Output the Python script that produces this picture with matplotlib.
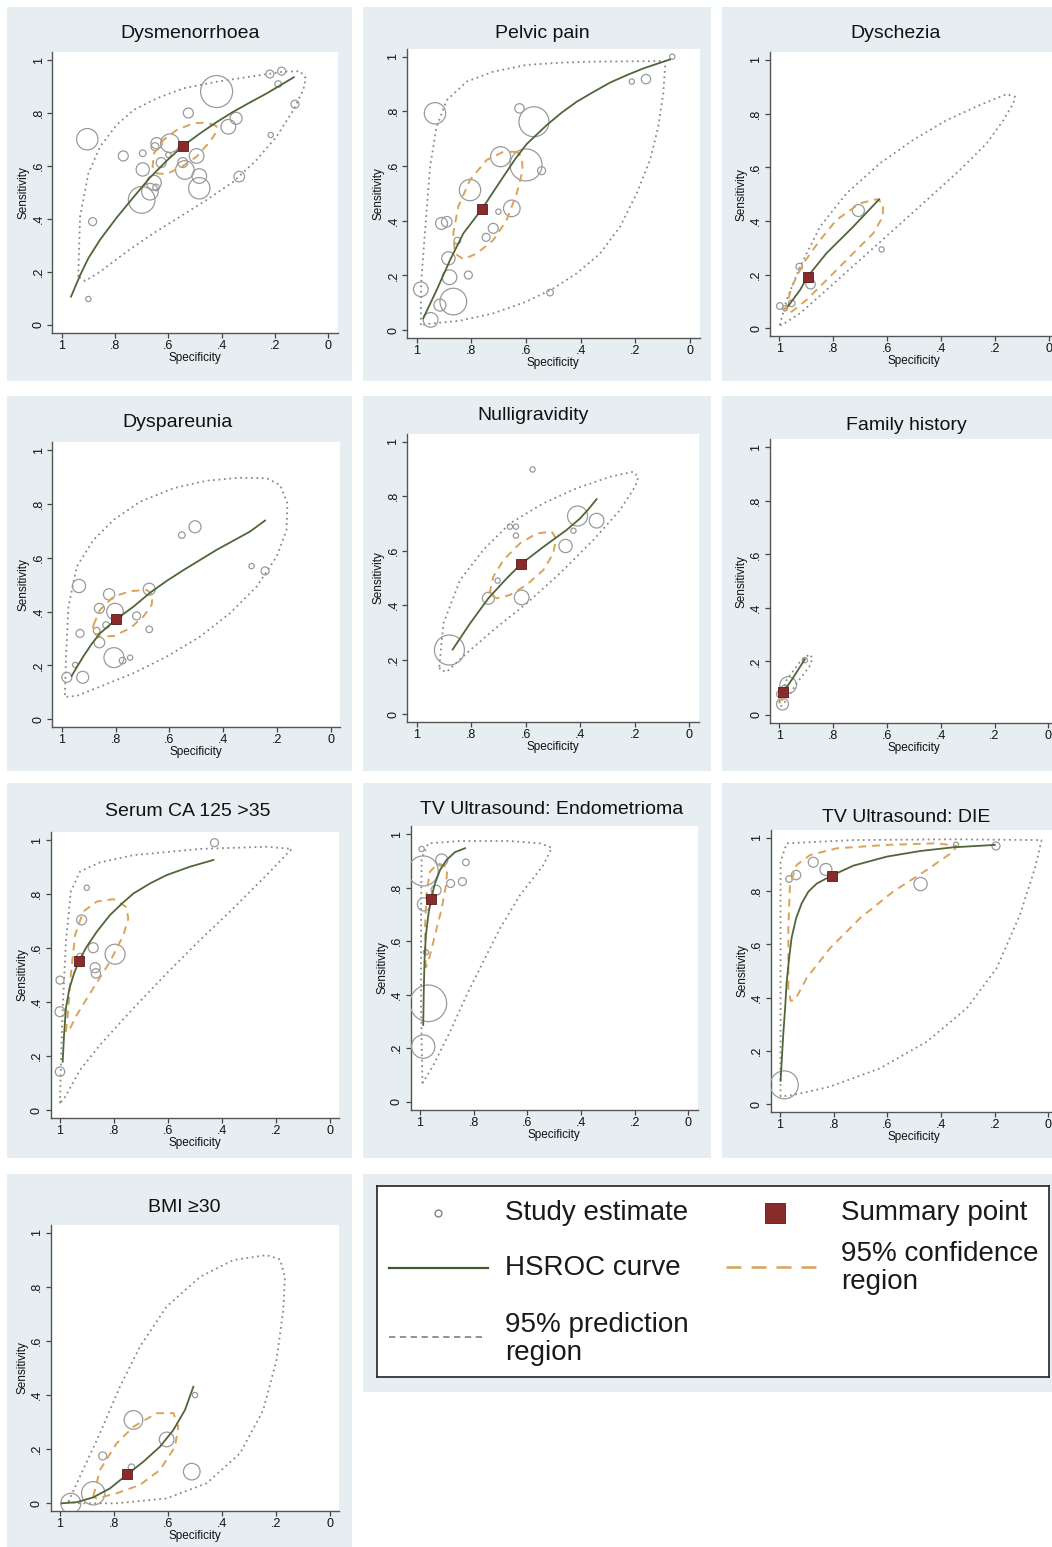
import numpy as np
import matplotlib
matplotlib.use("Agg")
import matplotlib.pyplot as plt
from matplotlib.patches import Rectangle

plt.rcParams['font.family'] = ['Liberation Sans', 'DejaVu Sans']

W, H = 1052, 1547

titles = ["Dysmenorrhoea", "Pelvic pain", "Dyschezia", "Dyspareunia", "Nulligravidity",
          "Family history", "Serum CA 125 >35", "TV Ultrasound: Endometrioma",
          "TV Ultrasound: DIE", "BMI \u226530"]

# ---- data: (specificity, sensitivity, weight) per study, summary point,
# ---- HSROC curve, 95% confidence region, 95% prediction region
dysm_studies = [(0.904, 0.701, 114), (0.884, 0.390, 16), (0.900, 0.098, 7), (0.769, 0.638, 25),
                (0.696, 0.648, 11), (0.696, 0.587, 44), (0.700, 0.472, 178), (0.669, 0.503, 69),
                (0.654, 0.537, 54), (0.646, 0.519, 11), (0.644, 0.686, 32), (0.650, 0.673, 16),
                (0.627, 0.613, 25), (0.600, 0.642, 7), (0.594, 0.686, 87), (0.546, 0.613, 25),
                (0.538, 0.585, 87), (0.525, 0.800, 25), (0.494, 0.638, 54), (0.484, 0.562, 54),
                (0.484, 0.516, 114), (0.419, 0.881, 256), (0.375, 0.748, 54), (0.346, 0.780, 36),
                (0.334, 0.560, 28), (0.216, 0.717, 7), (0.219, 0.947, 16), (0.175, 0.958, 16),
                (0.188, 0.909, 11), (0.125, 0.833, 16)]
dysm_summary = (0.546, 0.675)
dysm_curve = [(0.965, 0.107), (0.930, 0.190), (0.900, 0.252), (0.856, 0.322), (0.794, 0.405),
              (0.731, 0.482), (0.669, 0.556), (0.606, 0.620), (0.546, 0.675), (0.481, 0.723),
              (0.420, 0.765), (0.356, 0.805), (0.290, 0.842), (0.231, 0.874), (0.129, 0.935)]
dysm_conf = [(0.419, 0.751), (0.456, 0.764), (0.506, 0.761), (0.569, 0.736), (0.619, 0.698),
             (0.654, 0.648), (0.659, 0.597), (0.644, 0.572), (0.606, 0.570), (0.550, 0.597),
             (0.494, 0.635), (0.444, 0.692), (0.419, 0.730)]
dysm_pred = [(0.938, 0.182), (0.931, 0.409), (0.900, 0.572), (0.856, 0.673), (0.794, 0.755),
             (0.731, 0.811), (0.644, 0.855), (0.544, 0.893), (0.419, 0.918), (0.294, 0.937),
             (0.169, 0.956), (0.106, 0.958), (0.084, 0.931), (0.094, 0.887), (0.131, 0.811),
             (0.194, 0.711), (0.269, 0.623), (0.356, 0.541), (0.456, 0.472), (0.556, 0.409),
             (0.656, 0.346), (0.756, 0.277), (0.856, 0.201), (0.912, 0.166)]

pelv_studies = [(0.933, 0.793, 114), (0.624, 0.811, 22), (0.571, 0.762, 225), (0.693, 0.634, 100),
                (0.600, 0.604, 256), (0.543, 0.583, 16), (0.805, 0.512, 114), (0.652, 0.445, 69),
                (0.701, 0.433, 7), (0.909, 0.390, 36), (0.890, 0.396, 28), (0.720, 0.372, 25),
                (0.746, 0.339, 16), (0.851, 0.327, 11), (0.884, 0.262, 44), (0.880, 0.193, 54),
                (0.811, 0.201, 16), (0.866, 0.104, 178), (0.915, 0.091, 36), (0.985, 0.149, 54),
                (0.949, 0.037, 54), (0.512, 0.137, 11), (0.213, 0.909, 7), (0.161, 0.918, 22),
                (0.065, 1.000, 7)]
pelv_summary = (0.761, 0.443)
pelv_curve = [(0.976, 0.043), (0.927, 0.146), (0.878, 0.256), (0.829, 0.354), (0.761, 0.443),
              (0.695, 0.543), (0.640, 0.625), (0.598, 0.680), (0.524, 0.750), (0.470, 0.795),
              (0.415, 0.835), (0.350, 0.873), (0.293, 0.905), (0.230, 0.933), (0.171, 0.957),
              (0.073, 0.990)]
pelv_conf = [(0.634, 0.652), (0.683, 0.652), (0.744, 0.622), (0.805, 0.549), (0.848, 0.451),
             (0.866, 0.354), (0.860, 0.280), (0.829, 0.259), (0.780, 0.280), (0.720, 0.329),
             (0.671, 0.402), (0.634, 0.500), (0.612, 0.585), (0.616, 0.634)]
pelv_pred = [(0.985, 0.018), (0.984, 0.171), (0.970, 0.354), (0.951, 0.598), (0.927, 0.744),
             (0.890, 0.841), (0.817, 0.909), (0.720, 0.945), (0.598, 0.970), (0.476, 0.978),
             (0.354, 0.982), (0.232, 0.983), (0.091, 0.984), (0.091, 0.963), (0.098, 0.866),
             (0.116, 0.744), (0.146, 0.622), (0.195, 0.500), (0.256, 0.378), (0.329, 0.280),
             (0.415, 0.207), (0.500, 0.152), (0.598, 0.104), (0.720, 0.061), (0.841, 0.034),
             (0.963, 0.022)]

dysc_studies = [(0.707, 0.439, 36), (0.621, 0.294, 7), (0.926, 0.230, 11), (0.884, 0.164, 22),
                (0.998, 0.083, 11), (0.979, 0.075, 7), (0.954, 0.093, 11)]
dysc_summary = (0.895, 0.193)
dysc_curve = [(0.967, 0.083), (0.923, 0.143), (0.895, 0.193), (0.825, 0.280), (0.726, 0.379),
              (0.630, 0.481)]
dysc_conf = [(0.979, 0.062), (0.954, 0.155), (0.911, 0.242), (0.849, 0.329), (0.788, 0.404),
             (0.701, 0.466), (0.640, 0.481), (0.615, 0.466), (0.617, 0.416), (0.652, 0.354),
             (0.726, 0.280), (0.812, 0.193), (0.899, 0.106), (0.954, 0.062)]
dysc_pred = [(0.998, 0.012), (0.973, 0.106), (0.923, 0.230), (0.849, 0.379), (0.751, 0.503),
             (0.627, 0.615), (0.504, 0.702), (0.380, 0.776), (0.257, 0.832), (0.158, 0.873),
             (0.127, 0.863), (0.133, 0.839), (0.170, 0.776), (0.232, 0.689), (0.331, 0.590),
             (0.454, 0.478), (0.578, 0.366), (0.701, 0.255), (0.825, 0.143), (0.923, 0.056),
             (0.991, 0.012)]

dysp_studies = [(0.936, 0.495, 44), (0.932, 0.319, 16), (0.950, 0.202, 7), (0.981, 0.156, 25),
                (0.922, 0.156, 36), (0.860, 0.412, 25), (0.870, 0.329, 11), (0.860, 0.285, 28),
                (0.824, 0.464, 32), (0.835, 0.350, 11), (0.802, 0.400, 69), (0.806, 0.229, 100),
                (0.774, 0.218, 11), (0.746, 0.229, 7), (0.722, 0.384, 16), (0.675, 0.483, 36),
                (0.675, 0.334, 11), (0.554, 0.684, 11), (0.505, 0.715, 36), (0.295, 0.569, 7),
                (0.245, 0.551, 16)]
dysp_summary = (0.798, 0.371)
dysp_curve = [(0.963, 0.161), (0.940, 0.200), (0.920, 0.233), (0.890, 0.278), (0.858, 0.319),
              (0.798, 0.371), (0.734, 0.418), (0.672, 0.470), (0.610, 0.514), (0.548, 0.554),
              (0.425, 0.629), (0.301, 0.697), (0.245, 0.738)]
dysp_conf = [(0.882, 0.350), (0.858, 0.406), (0.808, 0.455), (0.746, 0.476), (0.684, 0.480),
             (0.662, 0.462), (0.666, 0.425), (0.697, 0.381), (0.746, 0.338), (0.808, 0.309),
             (0.864, 0.307), (0.885, 0.325)]
dysp_pred = [(0.988, 0.090), (0.984, 0.233), (0.975, 0.418), (0.944, 0.567), (0.882, 0.666),
             (0.808, 0.740), (0.709, 0.808), (0.585, 0.858), (0.462, 0.886), (0.338, 0.897),
             (0.239, 0.895), (0.189, 0.870), (0.162, 0.802), (0.165, 0.703), (0.202, 0.604),
             (0.276, 0.493), (0.375, 0.394), (0.486, 0.307), (0.610, 0.233), (0.734, 0.171),
             (0.858, 0.121), (0.944, 0.087), (0.981, 0.084)]

null_studies = [(0.880, 0.235, 225), (0.737, 0.425, 36), (0.703, 0.490, 7), (0.615, 0.428, 54),
                (0.658, 0.688, 7), (0.636, 0.688, 7), (0.636, 0.655, 7), (0.575, 0.898, 7),
                (0.454, 0.617, 44), (0.425, 0.673, 7), (0.410, 0.727, 100), (0.340, 0.710, 54)]
null_summary = (0.617, 0.551)
null_curve = [(0.868, 0.237), (0.804, 0.333), (0.737, 0.425), (0.670, 0.498), (0.617, 0.551),
              (0.535, 0.614), (0.450, 0.676), (0.401, 0.718), (0.370, 0.752), (0.340, 0.789)]
null_conf = [(0.733, 0.441), (0.719, 0.504), (0.682, 0.565), (0.621, 0.627), (0.560, 0.663),
             (0.505, 0.670), (0.489, 0.645), (0.499, 0.590), (0.535, 0.529), (0.597, 0.474),
             (0.658, 0.437), (0.707, 0.425)]
null_pred = [(0.917, 0.174), (0.902, 0.333), (0.841, 0.492), (0.756, 0.602), (0.658, 0.700),
             (0.535, 0.774), (0.413, 0.829), (0.291, 0.871), (0.205, 0.890), (0.187, 0.869),
             (0.199, 0.835), (0.254, 0.749), (0.352, 0.639), (0.474, 0.517), (0.597, 0.406),
             (0.719, 0.308), (0.817, 0.223), (0.890, 0.155), (0.914, 0.162)]

fam_studies = [(0.967, 0.112, 69), (0.988, 0.041, 36), (0.905, 0.205, 7), (0.998, 0.078, 11),
               (0.979, 0.100, 11)]
fam_summary = (0.988, 0.085)
fam_curve = [(0.988, 0.081), (0.954, 0.131), (0.905, 0.208)]
fam_conf = [(0.998, 0.068), (0.994, 0.100), (0.979, 0.108), (0.970, 0.093), (0.978, 0.062),
            (0.991, 0.056)]
fam_pred = [(1.000, 0.050), (0.973, 0.131), (0.923, 0.199), (0.888, 0.227), (0.876, 0.212),
            (0.888, 0.181), (0.936, 0.118), (0.973, 0.056), (0.995, 0.031)]

ca_studies = [(0.428, 0.990, 16), (0.901, 0.823, 7), (0.920, 0.704, 25), (0.877, 0.601, 25),
              (0.796, 0.577, 100), (0.926, 0.568, 11), (0.870, 0.527, 25), (0.867, 0.506, 22),
              (1.000, 0.481, 16), (1.000, 0.364, 25), (1.000, 0.142, 22)]
ca_summary = (0.928, 0.552)
ca_curve = [(0.990, 0.179), (0.985, 0.278), (0.978, 0.377), (0.965, 0.451), (0.948, 0.506),
            (0.928, 0.556), (0.901, 0.605), (0.864, 0.660), (0.815, 0.722), (0.770, 0.765),
            (0.728, 0.802), (0.665, 0.840), (0.605, 0.870), (0.519, 0.901), (0.432, 0.926)]
ca_conf = [(0.978, 0.290), (0.969, 0.377), (0.960, 0.500), (0.944, 0.648), (0.914, 0.735),
           (0.864, 0.772), (0.802, 0.781), (0.756, 0.753), (0.747, 0.710), (0.765, 0.648),
           (0.815, 0.549), (0.877, 0.451), (0.938, 0.352), (0.969, 0.290)]
ca_pred = [(1.000, 0.025), (0.996, 0.191), (0.990, 0.377), (0.978, 0.623), (0.960, 0.809),
           (0.926, 0.883), (0.852, 0.917), (0.728, 0.944), (0.481, 0.967), (0.235, 0.975),
           (0.142, 0.967), (0.235, 0.870), (0.358, 0.747), (0.481, 0.630), (0.605, 0.506),
           (0.728, 0.377), (0.852, 0.241), (0.926, 0.148), (0.981, 0.049)]

endo_studies = [(0.994, 0.945, 7), (0.988, 0.863, 225), (0.919, 0.904, 36), (0.886, 0.816, 16),
                (0.842, 0.823, 16), (0.829, 0.895, 11), (0.940, 0.791, 25), (0.985, 0.738, 44),
                (0.969, 0.368, 336), (0.988, 0.206, 136), (0.978, 0.559, 7)]
endo_summary = (0.959, 0.758)
endo_curve = [(0.988, 0.287), (0.986, 0.411), (0.983, 0.536), (0.978, 0.623), (0.969, 0.698),
              (0.959, 0.758), (0.944, 0.817), (0.925, 0.867), (0.901, 0.904), (0.870, 0.933),
              (0.832, 0.948)]
endo_conf = [(0.979, 0.500), (0.981, 0.661), (0.975, 0.786), (0.963, 0.860), (0.932, 0.892),
             (0.898, 0.875), (0.903, 0.810), (0.919, 0.723), (0.944, 0.623), (0.969, 0.524)]
endo_pred = [(0.991, 0.069), (0.996, 0.349), (0.996, 0.723), (0.994, 0.910), (0.969, 0.966),
             (0.851, 0.975), (0.665, 0.975), (0.553, 0.966), (0.509, 0.950), (0.540, 0.885),
             (0.627, 0.773), (0.702, 0.648), (0.764, 0.524), (0.826, 0.399), (0.888, 0.262),
             (0.950, 0.137)]

die_studies = [(0.984, 0.073, 196), (0.966, 0.845, 11), (0.940, 0.860, 22), (0.876, 0.908, 25),
               (0.829, 0.881, 36), (0.476, 0.826, 44), (0.344, 0.973, 7), (0.195, 0.969, 16)]
die_summary = (0.807, 0.858)
die_curve = [(0.998, 0.088), (0.993, 0.173), (0.988, 0.260), (0.981, 0.360), (0.975, 0.460),
             (0.966, 0.548), (0.957, 0.623), (0.940, 0.698), (0.919, 0.754), (0.894, 0.798),
             (0.863, 0.828), (0.807, 0.858), (0.727, 0.895), (0.602, 0.929), (0.478, 0.950),
             (0.354, 0.964), (0.199, 0.973)]
die_conf = [(0.969, 0.435), (0.969, 0.660), (0.963, 0.823), (0.938, 0.898), (0.888, 0.935),
            (0.789, 0.960), (0.602, 0.973), (0.416, 0.979), (0.342, 0.969), (0.354, 0.948),
            (0.453, 0.879), (0.578, 0.798), (0.702, 0.698), (0.814, 0.585), (0.901, 0.473),
            (0.944, 0.391), (0.960, 0.388)]
die_pred = [(0.998, 0.029), (0.998, 0.485), (0.998, 0.910), (0.975, 0.979), (0.727, 0.991),
            (0.354, 0.994), (0.025, 0.991), (0.050, 0.885), (0.106, 0.710), (0.193, 0.510),
            (0.304, 0.360), (0.453, 0.235), (0.627, 0.135), (0.814, 0.066), (0.950, 0.035)]

bmi_studies = [(0.960, 0.000, 100), (0.877, 0.037, 136), (0.842, 0.175, 16), (0.728, 0.308, 87),
               (0.735, 0.133, 11), (0.605, 0.236, 54), (0.512, 0.117, 69), (0.500, 0.400, 7)]
bmi_summary = (0.753, 0.108)
bmi_curve = [(0.994, 0.000), (0.938, 0.004), (0.877, 0.022), (0.815, 0.055), (0.753, 0.105),
             (0.691, 0.154), (0.630, 0.209), (0.580, 0.271), (0.537, 0.345), (0.506, 0.431)]
bmi_conf = [(0.877, 0.025), (0.852, 0.123), (0.790, 0.222), (0.728, 0.283), (0.642, 0.333),
            (0.580, 0.333), (0.562, 0.283), (0.574, 0.209), (0.630, 0.123), (0.704, 0.068),
            (0.790, 0.037), (0.864, 0.018)]
bmi_pred = [(0.969, 0.006), (0.926, 0.099), (0.852, 0.259), (0.778, 0.431), (0.704, 0.579),
            (0.605, 0.727), (0.481, 0.837), (0.358, 0.899), (0.235, 0.917), (0.185, 0.901),
            (0.167, 0.837), (0.173, 0.714), (0.198, 0.530), (0.247, 0.345), (0.333, 0.185),
            (0.457, 0.074), (0.605, 0.018), (0.790, 0.000), (0.938, 0.000)]

panels = [
    (dysm_studies, dysm_summary, dysm_curve, dysm_conf, dysm_pred),
    (pelv_studies, pelv_summary, pelv_curve, pelv_conf, pelv_pred),
    (dysc_studies, dysc_summary, dysc_curve, dysc_conf, dysc_pred),
    (dysp_studies, dysp_summary, dysp_curve, dysp_conf, dysp_pred),
    (null_studies, null_summary, null_curve, null_conf, null_pred),
    (fam_studies, fam_summary, fam_curve, fam_conf, fam_pred),
    (ca_studies, ca_summary, ca_curve, ca_conf, ca_pred),
    (endo_studies, endo_summary, endo_curve, endo_conf, endo_pred),
    (die_studies, die_summary, die_curve, die_conf, die_pred),
    (bmi_studies, bmi_summary, bmi_curve, bmi_conf, bmi_pred),
]

# ---- layout (pixels) ----
BG = '#e7eef2'
CIRC = '#9a9a9a'
CURVE = '#50663a'
CONF = '#dba35a'
PRED = '#8a8a8a'
SUMM = '#8a2b2b'

panel_box = [(7, 7, 352, 381), (363, 7, 711, 381), (722, 7, 1052, 381),
             (7, 396, 352, 771), (363, 396, 711, 771), (722, 396, 1052, 771),
             (7, 783, 352, 1158), (363, 783, 711, 1158), (722, 783, 1052, 1158),
             (7, 1174, 352, 1547)]
# pixel x of spec=1, spec=0 ; pixel y of sens=1, sens=0
axis_ref = [(61.7, 328.3, 60, 325), (416.7, 690, 56.7, 330), (779.3, 1049.3, 60, 328.3),
            (61.7, 331, 450, 719.3), (416.7, 689.3, 441.7, 714), (779.3, 1048.3, 447.3, 715),
            (60, 330, 840, 1110), (420, 688.3, 834.3, 1101.7), (780, 1048.3, 837.7, 1104.3),
            (60, 330, 1232.7, 1503.3)]
title_xy = [(190, 33), (542, 34), (896, 33), (178, 423), (533, 415), (906, 425),
            (188, 812), (552, 810), (906, 817), (184, 1207)]

XL = (1.035, -0.035)
YL = (-0.03, 1.03)

fig = plt.figure(figsize=(W / 100, H / 100), dpi=100)
fig.patch.set_facecolor('white')


def rect(x0, y0, x1, y1, **kw):
    fig.patches.append(Rectangle((x0 / W, 1 - y1 / H), (x1 - x0) / W, (y1 - y0) / H,
                                 transform=fig.transFigure, zorder=-5, **kw))


def closed(pts):
    a = np.array(pts)
    return np.vstack([a, a[:1]])


for i, (studies, summ, curve, conf, pred) in enumerate(panels):
    rect(*panel_box[i], fc=BG, ec='none')
    x1, x0, y1, y0 = axis_ref[i]
    sx = x0 - x1
    sy = y0 - y1
    left = x1 - (XL[0] - 1) * sx
    right = x0 - XL[1] * sx
    top = y1 - (YL[1] - 1) * sy
    bottom = y0 - YL[0] * sy
    ax = fig.add_axes([left / W, 1 - bottom / H, (right - left) / W, (bottom - top) / H])
    ax.set_facecolor('white')
    ax.set_xlim(*XL)
    ax.set_ylim(*YL)

    pr = closed(pred)
    ax.plot(pr[:, 0], pr[:, 1], color=PRED, lw=1.3, linestyle=(0, (1, 2)), zorder=2)
    st = np.array(studies)
    ax.scatter(st[:, 0], st[:, 1], s=st[:, 2] * 2.07, facecolors='none',
               edgecolors=CIRC, linewidths=0.9, zorder=3)
    cf = closed(conf)
    ax.plot(cf[:, 0], cf[:, 1], color=CONF, lw=1.4, linestyle=(0, (4, 3)), zorder=4)
    cv = np.array(curve)
    ax.plot(cv[:, 0], cv[:, 1], color=CURVE, lw=1.3, zorder=5)
    ax.plot([summ[0]], [summ[1]], marker='s', ms=6.5, mfc=SUMM, mec='#5a1818',
            mew=0.6, ls='none', zorder=6)

    ticks = [0, 0.2, 0.4, 0.6, 0.8, 1]
    labels = ['0', '.2', '.4', '.6', '.8', '1']
    ax.set_xticks(ticks)
    ax.set_xticklabels(labels)
    ax.set_yticks(ticks)
    ax.set_yticklabels(labels, rotation=90, va='center')
    ax.tick_params(axis='both', direction='out', length=3.5, width=0.9, colors='#444',
                   labelsize=9, labelcolor='#111', pad=1.5)
    ax.tick_params(axis='y', pad=2)
    for s in ['top', 'right']:
        ax.spines[s].set_visible(False)
    for s in ['left', 'bottom']:
        ax.spines[s].set_color('#555')
        ax.spines[s].set_linewidth(1.0)
    ax.set_xlabel('Specificity', fontsize=8.5, labelpad=0, color='#111')
    ax.set_ylabel('Sensitivity', fontsize=8.5, labelpad=2, color='#111')

    tx, ty = title_xy[i]
    fig.text(tx / W, 1 - ty / H, titles[i], ha='center', va='center', fontsize=14,
             color='#111')

# ---- legend panel ----
rect(363, 1174, 1052, 1392, fc=BG, ec='none')
lx0, ly0, lx1, ly1 = 377, 1186, 1049, 1377
lax = fig.add_axes([lx0 / W, 1 - ly1 / H, (lx1 - lx0) / W, (ly1 - ly0) / H])
lax.set_xlim(lx0, lx1)
lax.set_ylim(ly1, ly0)
lax.set_facecolor('white')
lax.set_xticks([])
lax.set_yticks([])
for s in lax.spines.values():
    s.set_color('#222')
    s.set_linewidth(1.2)

lax.plot([438], [1213], marker='o', ms=5, mfc='none', mec='#777', mew=0.9, ls='none')
lax.plot([775], [1213], marker='s', ms=14, mfc=SUMM, mec='#5a1818', mew=0.6, ls='none')
lax.plot([389, 488], [1268, 1268], color='#3e5a2c', lw=1.6)
lax.plot([726, 817], [1267, 1267], color=CONF, lw=1.8, dashes=(6, 4))
lax.plot([389, 484], [1337, 1337], color=PRED, lw=1.3, dashes=(3.5, 2.5))

fs = 20
tc = '#1a1a1a'
lax.text(505, 1213, 'Study estimate', fontsize=fs, va='center', color=tc)
lax.text(841, 1213, 'Summary point', fontsize=fs, va='center', color=tc)
lax.text(505, 1268, 'HSROC curve', fontsize=fs, va='center', color=tc)
lax.text(841, 1254, '95% confidence', fontsize=fs, va='center', color=tc)
lax.text(841, 1282, 'region', fontsize=fs, va='center', color=tc)
lax.text(505, 1325, '95% prediction', fontsize=fs, va='center', color=tc)
lax.text(505, 1353, 'region', fontsize=fs, va='center', color=tc)

fig.savefig('out.png', dpi=100, facecolor='white')
